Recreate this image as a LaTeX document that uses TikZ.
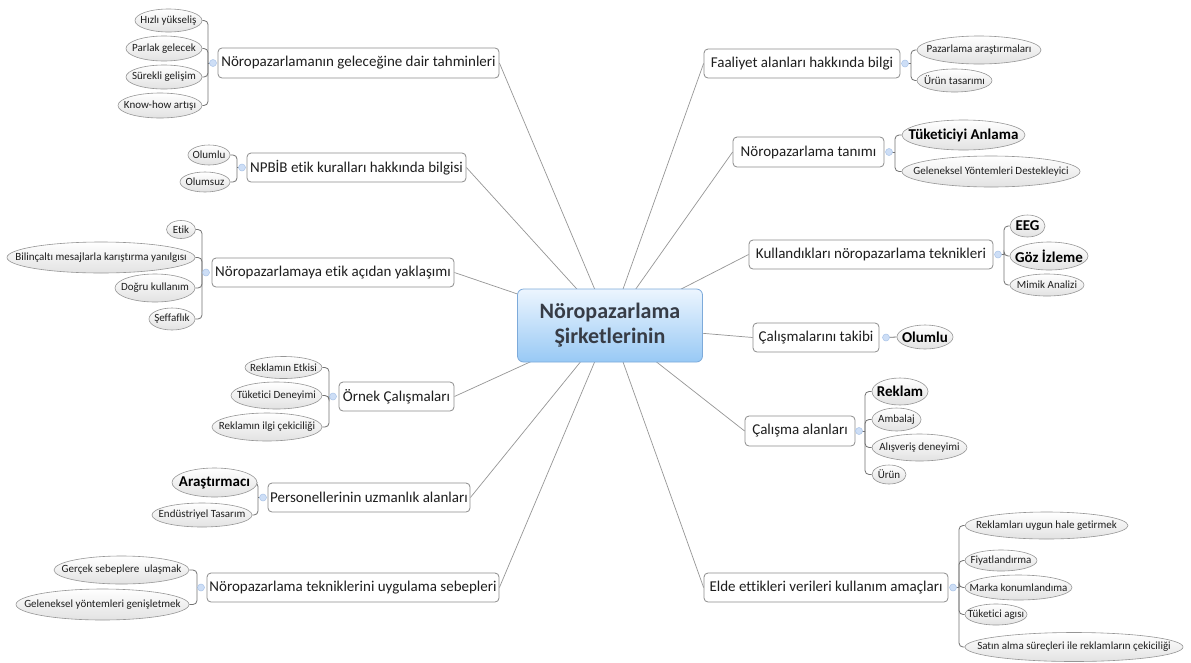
\documentclass[tikz,border=0pt]{standalone}
\usepackage{fontspec}
\setmainfont{Carlito}[Ligatures=NoCommon]
\usetikzlibrary{shapes.geometric}
\pgfdeclarelayer{background}
\pgfsetlayers{background,main}
\definecolor{centop}{RGB}{236,245,254}
\definecolor{cenbot}{RGB}{152,201,245}
\definecolor{cenborder}{RGB}{125,170,218}
\definecolor{centext}{RGB}{55,60,70}
\definecolor{boxborder}{RGB}{140,140,140}
\definecolor{textc}{RGB}{30,30,30}
\definecolor{ellborder}{RGB}{150,150,150}
\definecolor{ellbot}{RGB}{226,226,226}
\definecolor{jointfill}{RGB}{205,222,246}
\definecolor{jointdraw}{RGB}{170,196,232}
\definecolor{linec}{RGB}{150,150,150}
\definecolor{brkc}{RGB}{115,115,115}
\newcommand\zw[1]{\makebox[0pt]{#1}}
\tikzset{
  central/.style={rectangle, rounded corners=6pt, draw=cenborder, line width=0.8pt,
    top color=centop, bottom color=cenbot, minimum width=185pt, minimum height=73pt,
    inner sep=0pt, align=center, text=centext, font=\fontsize{22}{25}\selectfont\bfseries},
  topic/.style={rectangle, rounded corners=4pt, draw=boxborder, fill=white, line width=0.8pt,
    minimum height=29pt, inner sep=0pt, text=textc, font=\fontsize{15}{18}\selectfont},
  sub/.style={ellipse, draw=ellborder, top color=white, bottom color=ellbot, line width=0.6pt,
    inner sep=0pt, text=textc, font=\fontsize{11}{13}\selectfont},
  subb/.style={sub, text=black, font=\fontsize{15}{18}\selectfont\bfseries},
  joint/.style={circle, fill=jointfill, draw=jointdraw, line width=0.5pt, minimum size=7pt, inner sep=0pt},
  conn/.style={draw=linec, line width=0.7pt},
  brk/.style={draw=brkc, line width=0.8pt, rounded corners=4pt}
}
\begin{document}
\begin{tikzpicture}[x=1pt,y=-1pt]
\useasboundingbox (0,0) rectangle (1191,662);
\begin{pgfonlayer}{background}
\fill[white] (0,0) rectangle (1191,662);
\end{pgfonlayer}

% central
\node[central] (c) at (610,325.5) {Nöropazarlama\\Şirketlerinin};

% main topics left
\node[topic, minimum width=281pt, minimum height=30pt] (m1) at (358.5,63) {Nöropazarlamanın geleceğine dair tahminleri};
\node[topic, minimum width=219pt] (m2) at (356.5,167.5) {NPBİB etik kuralları hakkında bilgisi};
\node[topic, minimum width=242pt] (m3) at (333,272.5) {Nöropazarlamaya etik açıdan yaklaşımı};
\node[topic, minimum width=115pt] (m4) at (396.5,396.5) {Örnek Çalışmaları};
\node[topic, minimum width=202pt] (m5) at (369,497.5) {Personellerinin uzmanlık alanları};
\node[topic, minimum width=292pt] (m6) at (353,587.5) {Nöropazarlama tekniklerini uygulama sebepleri};
% main topics right
\node[topic, minimum width=196pt] (m7) at (802,63.5) {Faaliyet alanları hakkında bilgi};
\node[topic, minimum width=151pt, minimum height=30pt] (m8) at (808.5,152) {Nöropazarlama tanımı};
\node[topic, minimum width=244pt] (m9) at (871,254.5) {Kullandıkları nöropazarlama teknikleri};
\node[topic, minimum width=126pt] (m10) at (816,337.5) {Çalışmalarını takibi};
\node[topic, minimum width=110pt, minimum height=30pt] (m11) at (800,431) {Çalışma alanları};
\node[topic, minimum width=244pt] (m12) at (826,587.5) {Elde ettikleri verileri kullanım amaçları};

% subtopics group 1
\node[sub, minimum width=67pt, minimum height=23pt] (g1a) at (168.5,20.5) {\zw{Hızlı yükseliş}};
\node[sub, minimum width=76pt, minimum height=25pt] (g1b) at (164,48.5) {\zw{Parlak gelecek}};
\node[sub, minimum width=76pt, minimum height=24pt] (g1c) at (164,77) {\zw{Sürekli gelişim}};
\node[sub, minimum width=84pt, minimum height=25pt] (g1d) at (160,105.5) {\zw{Know-how artışı}};
% group 2
\node[sub, minimum width=42pt, minimum height=20pt] (g2a) at (209,155) {\zw{Olumlu}};
\node[sub, minimum width=50pt, minimum height=20pt] (g2b) at (205,182) {\zw{Olumsuz}};
% group 3
\node[sub, minimum width=29pt, minimum height=18pt] (g3a) at (181,229.5) {\zw{Etik}};
\node[sub, minimum width=188pt, minimum height=31pt] (g3b) at (101,257.5) {\zw{Bilinçaltı mesajlarla karıştırma yanılgısı}};
\node[sub, minimum width=80pt, minimum height=28pt] (g3c) at (155,288) {\zw{Doğru kullanım}};
\node[sub, minimum width=46pt, minimum height=22pt] (g3d) at (172,319) {\zw{Şeffaflık}};
% group 4
\node[sub, minimum width=77pt, minimum height=22pt] (g4a) at (283.5,367.5) {\zw{Reklamın Etkisi}};
\node[sub, minimum width=91pt, minimum height=27pt] (g4b) at (276.5,395.5) {\zw{Tüketici Deneyimi}};
\node[sub, minimum width=110pt, minimum height=28pt] (g4c) at (267,427) {\zw{Reklamın ilgi çekiciliği}};
% group 5
\node[subb, minimum width=85pt, minimum height=29pt] (g5a) at (214.5,482.5) {\zw{Araştırmacı}};
\node[sub, minimum width=100pt, minimum height=24pt] (g5b) at (202,515) {\zw{Endüstriyel Tasarım}};
% group 6
\node[sub, minimum width=135pt, minimum height=28pt] (g6a) at (121.5,570) {\zw{Gerçek sebeplere\ \ ulaşmak}};
\node[sub, minimum width=173pt, minimum height=31pt] (g6b) at (102.5,604.5) {\zw{Geleneksel yöntemleri genişletmek}};
% group 7
\node[sub, minimum width=124pt, minimum height=28pt] (g7a) at (979,50) {\zw{Pazarlama araştırmaları}};
\node[sub, minimum width=75pt, minimum height=23pt] (g7b) at (954.5,80.5) {\zw{Ürün tasarımı}};
% group 8
\node[subb, minimum width=123pt, minimum height=30pt] (g8a) at (963.5,135) {\zw{Tüketiciyi Anlama}};
\node[sub, minimum width=178pt, minimum height=31pt] (g8b) at (991,171.5) {\zw{Geleneksel Yöntemleri Destekleyici}};
% group 9
\node[subb, minimum width=35pt, minimum height=22pt] (g9a) at (1027.5,226) {\zw{EEG}};
\node[subb, minimum width=78pt, minimum height=28pt] (g9b) at (1049,256) {\zw{Göz İzleme}};
\node[sub, minimum width=74pt, minimum height=22pt] (g9c) at (1047,285) {\zw{Mimik Analizi}};
% group 10
\node[subb, minimum width=56pt, minimum height=24pt] (g10a) at (925,337) {\zw{Olumlu}};
% group 11
\node[subb, minimum width=56pt, minimum height=27pt] (g11a) at (900,391.5) {\zw{Reklam}};
\node[sub, minimum width=49pt, minimum height=23pt] (g11b) at (896.5,419.5) {\zw{Ambalaj}};
\node[sub, minimum width=95pt, minimum height=27pt] (g11c) at (919.5,447.5) {\zw{Alışveriş deneyimi}};
\node[sub, minimum width=34pt, minimum height=19pt] (g11d) at (889,474.5) {\zw{Ürün}};
% group 12
\node[sub, minimum width=163pt, minimum height=27pt] (g12a) at (1046.5,525.5) {\zw{Reklamları uygun hale getirmek}};
\node[sub, minimum width=72pt, minimum height=21pt] (g12b) at (1001,560.5) {\zw{Fiyatlandırma}};
\node[sub, minimum width=107pt, minimum height=25pt] (g12c) at (1018.5,587.5) {\zw{Marka konumlandıma}};
\node[sub, minimum width=62pt, minimum height=21pt] (g12d) at (996,614.5) {\zw{Tüketici agısı}};
\node[sub, minimum width=218pt, minimum height=29pt] (g12e) at (1074,647) {\zw{Satın alma süreçleri ile reklamların çekiciliği}};

% joints
\node[joint] (j1) at (213,63) {};
\node[joint] (j2) at (242,167.5) {};
\node[joint] (j3) at (206,272.5) {};
\node[joint] (j4) at (333,396.5) {};
\node[joint] (j5) at (263,497.5) {};
\node[joint] (j6) at (201,587.5) {};
\node[joint] (j7) at (905,63.5) {};
\node[joint] (j8) at (889,152) {};
\node[joint] (j9) at (998,254.5) {};
\node[joint] (j10) at (886,337.5) {};
\node[joint] (j11) at (859,431) {};
\node[joint] (j12) at (953,587.5) {};

% bracket bars
\coordinate (b1) at (208,63);
\coordinate (b2) at (237,167.5);
\coordinate (b3) at (202,272.5);
\coordinate (b4) at (329,396.5);
\coordinate (b5) at (258,497.5);
\coordinate (b6) at (197,587.5);
\coordinate (b7) at (911,63.5);
\coordinate (b8) at (895,152);
\coordinate (b9) at (1004,254.5);
\coordinate (b11) at (865,431);
\coordinate (b12) at (959,587.5);

\begin{pgfonlayer}{background}
% central connectors
\foreach \m/\a in {m1/east,m2/east,m3/east,m4/east,m5/east,m6/east,m7/west,m8/west,m9/west,m10/west,m11/west,m12/west}
  \draw[conn] (c.center) -- (\m.\a);
% brackets
\draw[brk] (j1.center) -- (b1);
\foreach \s in {g1a,g1b,g1c,g1d} \draw[brk] (b1) |- (\s.east);
\draw[brk] (j2.center) -- (b2);
\foreach \s in {g2a,g2b} \draw[brk] (b2) |- (\s.east);
\draw[brk] (j3.center) -- (b3);
\foreach \s in {g3a,g3b,g3c,g3d} \draw[brk] (b3) |- (\s.east);
\draw[brk] (j4.center) -- (b4);
\foreach \s in {g4a,g4b,g4c} \draw[brk] (b4) |- (\s.east);
\draw[brk] (j5.center) -- (b5);
\foreach \s in {g5a,g5b} \draw[brk] (b5) |- (\s.east);
\draw[brk] (j6.center) -- (b6);
\foreach \s in {g6a,g6b} \draw[brk] (b6) |- (\s.east);
\draw[brk] (j7.center) -- (b7);
\foreach \s in {g7a,g7b} \draw[brk] (b7) |- (\s.west);
\draw[brk] (j8.center) -- (b8);
\foreach \s in {g8a,g8b} \draw[brk] (b8) |- (\s.west);
\draw[brk] (j9.center) -- (b9);
\foreach \s in {g9a,g9b,g9c} \draw[brk] (b9) |- (\s.west);
\draw[brk] (j10.center) -- (g10a.west);
\draw[brk] (j11.center) -- (b11);
\foreach \s in {g11a,g11b,g11c,g11d} \draw[brk] (b11) |- (\s.west);
\draw[brk] (j12.center) -- (b12);
\foreach \s in {g12a,g12b,g12c,g12d,g12e} \draw[brk] (b12) |- (\s.west);
\end{pgfonlayer}
\end{tikzpicture}
\end{document}
